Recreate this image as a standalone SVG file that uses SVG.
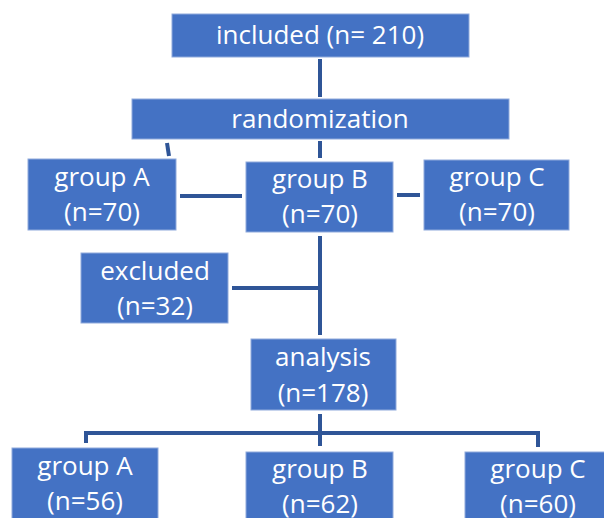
<svg xmlns="http://www.w3.org/2000/svg" width="604" height="518" viewBox="0 0 604 518">
<style>
.box{fill:#4472C4;stroke:#8FAADC;stroke-width:1}
.t{font-family:"Open Sans","Liberation Sans",sans-serif;font-size:26px;fill:#FFFFFF;text-anchor:middle}
.c{stroke:#2F5597;stroke-width:4;fill:none}
</style>
<rect width="604" height="518" fill="#FFFFFF"/>
<g id="connectors">
<path class="c" d="M320,59V97"/>
<path class="c" d="M320,141V158"/>
<path class="c" d="M167,143L169,156"/>
<path class="c" d="M180,196H242"/>
<path class="c" d="M397,195H420"/>
<path class="c" d="M320,236V335"/>
<path class="c" d="M232,288H320"/>
<path class="c" d="M320,414V446"/>
<path class="c" d="M86,443V433H538V447"/>
</g>
<g id="included"><rect class="box" x="172" y="14" width="297" height="43"/><text class="t" x="320" y="44">included (n= 210)</text></g>
<g id="randomization"><rect class="box" x="132" y="99" width="377" height="40"/><text class="t" x="320" y="128">randomization</text></g>
<g id="groupA1"><rect class="box" x="28" y="159" width="148" height="71"/><text class="t" x="102" y="186">group A</text><text class="t" x="102" y="221">(n=70)</text></g>
<g id="groupB1"><rect class="box" x="246" y="162" width="147" height="70"/><text class="t" x="320" y="188">group B</text><text class="t" x="320" y="223">(n=70)</text></g>
<g id="groupC1"><rect class="box" x="424" y="160" width="145" height="70"/><text class="t" x="497" y="186">group C</text><text class="t" x="497" y="221">(n=70)</text></g>
<g id="excluded"><rect class="box" x="81" y="253" width="147" height="70"/><text class="t" x="155" y="280">excluded</text><text class="t" x="155" y="315">(n=32)</text></g>
<g id="analysis"><rect class="box" x="251" y="339" width="145" height="71"/><text class="t" x="323" y="366">analysis</text><text class="t" x="323" y="402">(n=178)</text></g>
<g id="groupA2"><rect class="box" x="12" y="448" width="146" height="80"/><text class="t" x="85" y="475">group A</text><text class="t" x="85" y="510">(n=56)</text></g>
<g id="groupB2"><rect class="box" x="246" y="452" width="147" height="80"/><text class="t" x="320" y="478">group B</text><text class="t" x="320" y="513">(n=62)</text></g>
<g id="groupC2"><rect class="box" x="465" y="452" width="145" height="80"/><text class="t" x="538" y="478">group C</text><text class="t" x="538" y="513">(n=60)</text></g>
</svg>
